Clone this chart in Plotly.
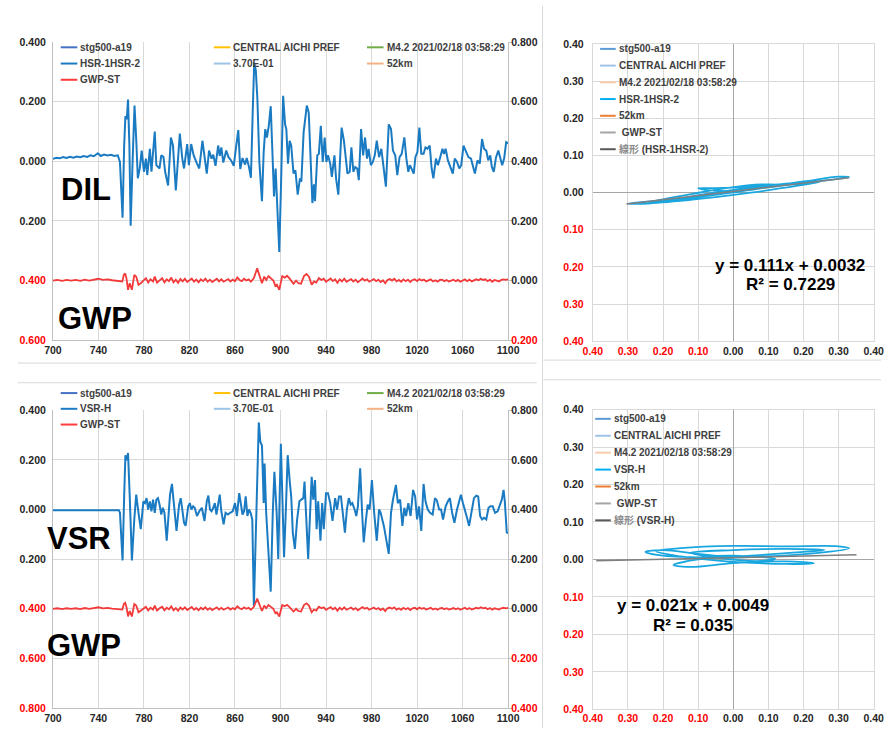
import plotly.graph_objects as go

W, H = 893, 734

# ---------------- data ----------------
x_ticks = [700, 740, 780, 820, 860, 900, 940, 980, 1020, 1060, 1100]

# HSR-1HSR-2 (DIL) time series
dil_t = [700, 703, 706, 709, 712, 715, 718, 721, 724, 727, 730, 733, 736, 739.5, 742, 745, 748, 751, 754, 757,
         758.9, 761.2, 762.6, 763.7, 764.9, 766.0, 767.2, 768.3, 770.0, 771.7, 773.2, 774.6, 776.3, 778.0,
         780.0, 781.7, 782.9, 785.2, 786.6, 789.5, 790.9, 793.7, 795.2, 797.2, 798.6, 801.2, 803.7, 805.5,
         808.0, 811.5, 813.7, 815.2, 818.0, 819.5, 821.5, 823.7, 826.6, 828.6, 831.4, 833.2, 835.2, 837.2,
         839.4, 840.9, 842.9, 845.2, 846.6, 848.0, 849.7, 852.3, 854.3, 856.6, 858.9, 860.9, 862.9, 864.6,
         866.6, 868.9, 870.3, 872.3, 874.0, 875.7, 876.9, 878.3, 879.7, 881.4, 883.7, 885.2, 886.6, 888.0,
         889.7, 891.4, 893.2, 894.3, 895.7, 897.4, 898.9, 900.6, 902.3, 904.0, 905.1, 906.6, 908.0, 909.4,
         911.4, 913.1, 915.1, 917.1, 918.3, 920.3, 923.1, 924.8, 926.6, 928.0, 929.4, 930.3, 932.3, 933.7,
         935.4, 937.1, 938.8, 940.3, 941.7, 943.7, 945.1, 947.4, 948.8, 950.8, 953.7, 955.7, 957.1, 958.8,
         960.8, 962.3, 964.0, 965.7, 967.4, 968.8, 970.8, 972.6, 974.3, 976.0, 977.4, 979.4, 981.1, 982.8,
         984.6, 986.6, 988.6, 990.8, 992.6, 995.1, 997.1, 998.8, 1000.8, 1002.6, 1004.6, 1006.5, 1008.8,
         1010.6, 1012.3, 1013.7, 1015.7, 1017.1, 1018.5, 1020.3, 1022.0, 1023.7, 1025.7, 1027.4, 1029.1,
         1031.1, 1032.8, 1034.3, 1036.6, 1038.3, 1040.0, 1042.3, 1043.7, 1045.1, 1047.1, 1049.4, 1051.4,
         1053.1, 1055.1, 1057.1, 1058.8, 1060.8, 1062.8, 1065.1, 1067.4, 1069.1, 1070.8, 1073.1, 1075.1,
         1077.1, 1078.8, 1080.8, 1082.5, 1084.3, 1085.7, 1087.4, 1089.4, 1091.4, 1093.1, 1094.8, 1096.5,
         1098.3, 1100]
dil_v = [0.008, 0.012, 0.010, 0.014, 0.011, 0.015, 0.012, 0.016, 0.014, 0.018, 0.015, 0.020, 0.017, 0.027, 0.018,
         0.023, 0.020, 0.022, 0.018, 0.020,
         -0.002, -0.189, 0.053, 0.152, 0.141, 0.207, 0.053, -0.216, -0.002, 0.187, 0.075, -0.057, -0.024, 0.036,
         -0.035, 0.009, -0.046, 0.042, -0.035, 0.100, -0.013, -0.024, 0.020, 0.014, -0.035, -0.081, 0.080, 0.053,
         -0.098, 0.093, 0.009, -0.024, 0.058, -0.013, 0.058, 0.020, -0.008, -0.024, 0.069, 0.009, -0.041, 0.036,
         0.009, 0.022, -0.015, 0.053, 0.018, 0.047, -0.004, 0.036, 0.014, 0.003, -0.015, 0.047, 0.105, -0.026,
         0.011, -0.011, 0.011, -0.019, -0.055, 0.185, 0.330, 0.305, 0.207, -0.002, -0.134, 0.031, 0.108, 0.080,
         0.119, 0.185, -0.057, -0.118, -0.024, -0.189, -0.304, -0.057, 0.220, 0.124, 0.108, -0.008, 0.069, 0.053,
         -0.041, -0.030, -0.112, -0.057, -0.068, 0.097, 0.187, 0.163, -0.013, -0.140, -0.077, -0.134, 0.020, 0.025,
         0.119, -0.002, 0.080, -0.002, 0.020, -0.008, -0.052, 0.020, -0.057, -0.112, 0.113, 0.069, 0.020, -0.041,
         -0.035, 0.047, -0.035, -0.019, -0.024, -0.063, 0.108, 0.020, 0.080, 0.009, 0.042, -0.013, -0.002, 0.020,
         0.069, 0.014, 0.042, -0.019, -0.085, 0.124, 0.108, 0.036, 0.020, -0.046, 0.014, 0.025, 0.080,
         0.009, -0.035, -0.013, -0.030, -0.041, 0.014, 0.031, 0.113, 0.025, 0.025, 0.047, 0.042,
         0.053, -0.024, -0.057, 0.009, -0.013, 0.009, 0.042, 0.025, 0.042, 0.003, -0.024, -0.041,
         0.009, -0.002, -0.024, -0.013, 0.053, 0.036, 0.014, 0.009, -0.019, -0.041, 0.003, -0.008,
         0.075, 0.042, 0.036, 0.003, 0.020, -0.019, -0.035, 0.014, 0.036, 0.009, -0.013, 0.009,
         0.064, 0.060]

# VSR-H time series
vsr_t = [700, 730, 758.0, 758.9, 761.2, 762.6, 763.7, 764.9, 766.0, 767.5, 769.4, 771.5, 773.2, 775.2, 777.2,
         779.5, 780.9, 782.3, 783.7, 785.2, 786.6, 788.0, 789.5, 790.9, 792.3, 793.7, 795.2, 796.6, 798.0,
         800.0, 802.9, 804.6, 806.6, 808.6, 810.9, 812.3, 813.7, 815.2, 816.6, 818.9, 820.3, 821.7, 823.2,
         824.6, 826.6, 828.6, 830.9, 833.2, 835.2, 836.6, 838.0, 839.4, 840.9, 842.3, 843.7, 845.2, 846.6,
         848.0, 850.0, 851.7, 853.7, 855.7, 858.0, 860.0, 861.7, 863.7, 865.2, 866.6, 868.0, 869.4, 870.9,
         872.3, 873.7, 875.2, 876.6, 878.6, 880.9, 882.3, 883.7, 885.2, 886.0, 887.4, 888.9, 891.4, 893.2,
         894.6, 896.6, 898.0, 900.3, 901.7, 903.1, 904.6, 906.3, 908.0, 909.4, 910.8, 912.6, 914.6, 916.6,
         918.3, 920.0, 921.1, 922.8, 924.3, 926.0, 927.4, 928.8, 930.3, 931.7, 933.1, 935.1, 936.6, 938.0,
         940.0, 941.7, 943.7, 945.7, 948.0, 949.7, 951.4, 953.1, 954.6, 956.6, 958.3, 960.0, 961.7, 963.1,
         965.1, 966.6, 968.0, 970.0, 971.7, 973.1, 975.1, 976.6, 978.3, 980.3, 982.3, 984.6, 986.6, 988.0,
         990.8, 993.1, 995.1, 997.1, 998.8, 1001.4, 1003.1, 1005.1, 1007.1, 1008.8, 1010.3, 1012.3, 1014.3,
         1016.5, 1018.3, 1020.0, 1021.7, 1023.7, 1025.7, 1027.4, 1029.4, 1031.4, 1033.7, 1035.7, 1037.4,
         1039.4, 1041.1, 1042.8, 1045.1, 1047.1, 1048.8, 1050.8, 1052.8, 1055.1, 1056.6, 1058.5, 1060.3,
         1062.3, 1064.3, 1065.7, 1068.0, 1070.0, 1072.0, 1073.7, 1075.4, 1077.1, 1078.8, 1080.8, 1082.8,
         1084.5, 1086.5, 1088.5, 1090.8, 1092.8, 1094.5, 1096.0, 1097.1, 1098.8, 1100]
vsr_v = [-0.003, -0.003, -0.003, -0.013, -0.205, 0.053, 0.219, 0.199, 0.228, 0.053, -0.205, -0.040, 0.060, -0.013, -0.079,
         0.033, 0.026, 0.046, 0.000, 0.033, -0.007, 0.040, -0.013, 0.040, 0.046, 0.020, -0.020, 0.007, -0.013,
         -0.126, 0.060, 0.103, 0.007, -0.086, 0.020, 0.046, 0.000, -0.053, -0.066, 0.013, 0.026, 0.000, 0.013,
         0.007, -0.026, -0.007, 0.007, -0.046, 0.033, 0.056, 0.000, -0.007, 0.007, 0.026, -0.020, 0.020, 0.060,
         -0.007, -0.060, -0.013, -0.020, -0.013, -0.007, 0.026, -0.026, 0.066, 0.026, -0.020, -0.007, 0.053, -0.026,
         0.000, -0.013, -0.040, -0.390, -0.013, 0.351, 0.272, 0.258, 0.026, 0.185, -0.013, -0.132, -0.331, -0.013,
         0.152, -0.013, -0.199, 0.265, 0.079, -0.192, -0.013, 0.219, 0.119, 0.053, -0.093, -0.159, -0.040, 0.033,
         0.040, 0.046, 0.113, -0.040, -0.199, -0.013, 0.132, 0.040, 0.119, -0.079, 0.033, -0.126, 0.026, -0.079,
         0.066, 0.066, 0.026, -0.046, 0.046, 0.000, 0.053, 0.053, -0.013, -0.093, 0.000, 0.046, 0.020, 0.026,
         0.000, -0.026, 0.013, 0.166, -0.013, -0.132, -0.040, 0.020, 0.000, 0.119, -0.013, -0.126, 0.000, -0.013,
         -0.066, -0.119, -0.179, -0.013, 0.040, 0.099, 0.026, 0.040, -0.066, 0.007, -0.026, 0.026, -0.026,
         0.079, 0.053, -0.040, 0.013, -0.086, 0.103, 0.033, 0.000, -0.013, -0.020, 0.046, 0.037,
         0.000, 0.000, -0.040, 0.013, 0.033, 0.046, -0.013, -0.053, 0.000, 0.026, 0.060, 0.026,
         -0.013, -0.040, -0.066, -0.013, 0.046, 0.056, 0.053, -0.026, -0.040, -0.033, -0.040, 0.007,
         0.013, 0.013, -0.013, -0.007, 0.020, 0.040, 0.079, 0.033, -0.093, -0.095]

# GWP-ST time series (same in both panels)
gwp_t = [700, 704, 708, 712, 716, 720, 724, 728, 732, 736, 740, 744, 748, 752, 756, 759, 761, 762.3, 763.5,
         764.6, 766.0, 767.5, 769.4, 771.5, 773.2, 775.2, 777.2, 779.5, 781.7, 783.7, 785.7, 788, 789.5,
         791.5, 793.7, 796, 798, 800, 802, 804, 806, 808, 810, 812, 814, 816, 818, 820, 822, 824, 826, 828,
         830, 832, 834, 836, 838, 840, 842, 844, 846, 848, 850, 852, 854, 856, 858, 860, 862, 864, 866, 868,
         870, 872, 874, 876.6, 878, 879.5, 880.9, 882.3, 883.7, 885.7, 887.4, 889.4, 891.4, 893.7, 895.5,
         896.8, 898.9, 901.5, 903.7, 905.7, 907.7, 909.4, 911.4, 913.7, 915.7, 918, 920.6, 922.8, 925, 927.4,
         929.4, 931.4, 933.7, 936, 938, 940, 942, 944, 946, 948, 950, 952, 954, 956, 958, 960, 962, 964, 966,
         968, 970, 972, 974, 976, 978, 980, 982, 984, 986, 988, 990, 992, 994, 996, 998, 1000, 1002, 1004,
         1006, 1008, 1010, 1012, 1014, 1016, 1018, 1020, 1022, 1024, 1026, 1028, 1030, 1032, 1034, 1036,
         1038, 1040, 1042, 1044, 1046, 1048, 1050, 1052, 1054, 1056, 1058, 1060, 1062, 1064, 1066, 1068,
         1070, 1072, 1074, 1076, 1078, 1080, 1082, 1084, 1086, 1088, 1090, 1092, 1094, 1096, 1098, 1100]
gwp_v = [0.000, 0.002, -0.001, 0.002, 0.000, 0.002, -0.001, 0.003, 0.000, 0.004, 0.006, 0.002, 0.004, 0.001, 0.000,
         0.000, -0.003, 0.019, 0.024, 0.008, -0.031, -0.009, -0.031, 0.019, 0.013, -0.014, -0.009, 0.000, 0.008,
         -0.007, 0.004, -0.003, 0.013, -0.007, 0.002, 0.008, -0.006, 0.004, -0.002, 0.010, -0.006, 0.003, -0.008,
         0.005, -0.003, 0.006, -0.005, 0.002, 0.007, -0.004, 0.003, -0.006, 0.004, -0.002, 0.006, -0.004, 0.003,
         -0.005, 0.002, 0.006, -0.003, 0.004, -0.004, 0.002, 0.005, -0.003, 0.003, -0.002, 0.010, 0.002, -0.002,
         0.006, 0.000, 0.004, -0.004, 0.008, 0.024, 0.041, 0.024, 0.008, -0.009, 0.013, 0.002, 0.015, 0.008,
         0.000, -0.018, -0.014, -0.031, 0.015, 0.010, 0.016, 0.008, -0.003, -0.011, 0.000, -0.009, -0.011, 0.015,
         0.022, 0.013, -0.014, -0.003, -0.007, 0.008, 0.002, 0.006, -0.004, 0.003, 0.007, -0.002, 0.004, -0.008,
         0.004, -0.003, 0.006, -0.004, 0.002, 0.005, -0.003, 0.003, -0.006, 0.002, 0.007, 0.000, 0.004, -0.004,
         0.002, 0.005, -0.002, 0.003, -0.005, 0.001, -0.009, 0.002, 0.005, 0.000, 0.006, -0.003, 0.002, -0.004,
         0.004, -0.002, 0.003, -0.005, 0.002, 0.004, -0.002, 0.005, 0.000, 0.003, -0.003, 0.002, 0.004, -0.003,
         0.001, -0.004, 0.002, 0.003, -0.002, 0.002, -0.003, 0.000, 0.003, -0.002, 0.002, -0.004, 0.001, 0.004,
         -0.002, 0.003, -0.003, 0.000, 0.004, 0.001, 0.006, 0.002, 0.004, -0.002, 0.003, -0.004, 0.002, 0.000,
         -0.003, 0.002, 0.004, 0.002, 0.004]

# scatter (x: strain, y: GWP)
dil_xy_x = [-0.02, 0.10, 0.22, 0.33, 0.30, 0.20, 0.05, -0.10, -0.22, -0.30, -0.26, -0.15, -0.05, 0.05, 0.18,
            0.25, 0.18, 0.05, -0.05, -0.10, -0.06, 0.00, 0.08, 0.14, 0.08, -0.02, -0.12, -0.20, -0.24, -0.15,
            -0.05, 0.04, 0.12, 0.06, -0.04, -0.12, -0.04, 0.03]
dil_xy_y = [0.000, 0.015, 0.028, 0.042, 0.043, 0.030, 0.010, -0.010, -0.022, -0.030, -0.030, -0.022, -0.012,
            0.000, 0.018, 0.030, 0.026, 0.016, 0.012, 0.012, 0.006, 0.004, 0.012, 0.020, 0.022, 0.012, -0.004,
            -0.018, -0.026, -0.018, -0.006, 0.006, 0.018, 0.014, 0.002, -0.010, -0.004, 0.004]
vsr_xy_x = [0.00, -0.10, -0.20, -0.25, -0.20, -0.05, 0.10, 0.25, 0.33, 0.30, 0.15, 0.00, -0.15, -0.22, -0.15,
            -0.02, 0.15, 0.23, 0.15, 0.00, -0.12, -0.17, -0.10, 0.05, 0.20, 0.26, 0.15, 0.00, -0.12, -0.05, 0.08,
            0.12, 0.00, -0.08, 0.02]
vsr_xy_y = [0.005, 0.015, 0.025, 0.020, 0.010, 0.005, 0.008, 0.018, 0.030, 0.035, 0.035, 0.036, 0.030, 0.022,
            0.008, -0.005, -0.012, -0.010, -0.005, -0.010, -0.020, -0.015, 0.000, 0.010, 0.020, 0.025, 0.028,
            0.025, 0.018, 0.005, -0.004, 0.002, 0.010, 0.008, 0.006]

dil_fit = [0.111, 0.0032]
vsr_fit = [0.021, 0.0049]
dil_eq = ["y = 0.111x + 0.0032", "R² = 0.7229"]
vsr_eq = ["y = 0.021x + 0.0049", "R² = 0.035"]

top_legend = [("stg500-a19", "#4472C4"), ("CENTRAL AICHI PREF", "#FFC000"), ("M4.2 2021/02/18 03:58:29", "#70AD47"),
              ("HSR-1HSR-2", "#1B7BC2"), ("3.70E-01", "#9DC3E6"), ("52km", "#F4B183"), ("GWP-ST", "#FF3B3B")]
bot_legend = [("stg500-a19", "#4472C4"), ("CENTRAL AICHI PREF", "#FFC000"), ("M4.2 2021/02/18 03:58:29", "#70AD47"),
              ("VSR-H", "#1B7BC2"), ("3.70E-01", "#9DC3E6"), ("52km", "#F4B183"), ("GWP-ST", "#FF3B3B")]
tr_legend = [("stg500-a19", "#5B9BD5"), ("CENTRAL AICHI PREF", "#9DC3E6"), ("M4.2 2021/02/18 03:58:29", "#F8CBAD"),
             ("HSR-1HSR-2", "#00B0F0"), ("52km", "#ED7D31"), (" GWP-ST", "#A5A5A5"), ("線形 (HSR-1HSR-2)", "#595959")]
br_legend = [("stg500-a19", "#5B9BD5"), ("CENTRAL AICHI PREF", "#9DC3E6"), ("M4.2 2021/02/18 03:58:29", "#F8CBAD"),
             ("VSR-H", "#00B0F0"), ("52km", "#ED7D31"), (" GWP-ST", "#A5A5A5"), ("線形 (VSR-H)", "#595959")]

# ---------------- helpers ----------------
FONT = "Arial, Liberation Sans, Noto Sans CJK JP"
BLUE = "#1B7BC2"
RED = "#F23A3A"
SCAT = "#1AA7E0"
GRID = "#D9D9D9"
AXL = "#BFBFBF"
TXT = "#262626"


def px(x):
    return x / W


def py(y):
    return 1 - y / H


def fmt(v, nd, red_below):
    s = f"{abs(v):.{nd}f}"
    if v < red_below - 1e-9:
        return f"<span style='color:#FF0000'>{s}</span>"
    return s


def yticks(lo, hi, step, nd, red_below=0.0):
    n = int(round((hi - lo) / step))
    vals = [round(lo + i * step, 6) for i in range(n + 1)]
    return vals, [f"<b>{fmt(v, nd, red_below)}</b>" for v in vals]


fig = go.Figure()

# time-series traces
fig.add_trace(go.Scatter(x=dil_t, y=dil_v, mode="lines", line=dict(color=BLUE, width=2),
                         xaxis="x", yaxis="y", showlegend=False))
fig.add_trace(go.Scatter(x=gwp_t, y=gwp_v, mode="lines", line=dict(color=RED, width=1.8),
                         xaxis="x", yaxis="y2", showlegend=False))
fig.add_trace(go.Scatter(x=vsr_t, y=vsr_v, mode="lines", line=dict(color=BLUE, width=2),
                         xaxis="x3", yaxis="y4", showlegend=False))
fig.add_trace(go.Scatter(x=gwp_t, y=gwp_v, mode="lines", line=dict(color=RED, width=1.8),
                         xaxis="x3", yaxis="y5", showlegend=False))

# scatter panels (trend line spans the strain range of each record)
fig.add_trace(go.Scatter(x=dil_xy_x, y=dil_xy_y, mode="lines", line=dict(color=SCAT, width=1.8, shape="spline"),
                         xaxis="x2", yaxis="y3", showlegend=False))
fx = [min(dil_v), max(dil_v)]
fig.add_trace(go.Scatter(x=fx, y=[dil_fit[0] * v + dil_fit[1] for v in fx], mode="lines",
                         line=dict(color="#7F7F7F", width=1.5), xaxis="x2", yaxis="y3", showlegend=False))
fig.add_trace(go.Scatter(x=vsr_xy_x, y=vsr_xy_y, mode="lines", line=dict(color=SCAT, width=1.8, shape="spline"),
                         xaxis="x4", yaxis="y6", showlegend=False))
fx2 = [min(vsr_v), max(vsr_v)]
fig.add_trace(go.Scatter(x=fx2, y=[vsr_fit[0] * v + vsr_fit[1] for v in fx2], mode="lines",
                         line=dict(color="#7F7F7F", width=1.5), xaxis="x4", yaxis="y6", showlegend=False))

tickfont = dict(family=FONT, size=10.5, color=TXT, weight="bold")

xt_text = [f"<b>{v}</b>" for v in x_ticks]
xcommon = dict(range=[700, 1100], tickvals=x_ticks, ticktext=xt_text, showgrid=True, gridcolor=GRID,
               showline=True, linecolor=AXL, ticks="", tickfont=tickfont, zeroline=False, fixedrange=True,
               ticklabelstandoff=0)

tl_dom_x = [px(44), px(510.7)]
r_dom_x = [px(597.5), px(885.5)]

yv, yt = yticks(-0.6, 0.4, 0.2, 3, red_below=-0.2)
y2v, y2t = yticks(-0.2, 0.8, 0.2, 3)
y4v, y4t = yticks(-0.8, 0.4, 0.2, 3, red_below=-0.2)
y5v, y5t = yticks(-0.4, 0.8, 0.2, 3)
sv, st = yticks(-0.4, 0.4, 0.1, 2)

left_y = dict(showgrid=True, gridcolor=GRID, showline=True, linecolor=AXL, ticks="", tickfont=tickfont,
              zeroline=False, ticklabelstandoff=4)
right_y = dict(showgrid=False, showline=True, linecolor=AXL, ticks="outside", ticklen=3, tickcolor=AXL,
               tickfont=tickfont, zeroline=False, side="right", ticklabelstandoff=-3)
scat_ax = dict(range=[-0.4, 0.4], tickvals=sv, ticktext=st, showgrid=True, gridcolor=GRID, showline=True,
               linecolor=GRID, mirror=True, ticks="", tickfont=tickfont, zeroline=True, zerolinecolor="#A6A6A6",
               zerolinewidth=1)

fig.update_layout(
    width=W, height=H, autosize=False, margin=dict(l=0, r=0, t=0, b=0),
    paper_bgcolor="white", plot_bgcolor="white", showlegend=False,
    xaxis=dict(domain=tl_dom_x, anchor="y", **xcommon),
    yaxis=dict(domain=[py(339.7), py(36.7)], range=[-0.6, 0.4], tickvals=yv, ticktext=yt, anchor="x", **left_y),
    yaxis2=dict(range=[-0.2, 0.8], tickvals=y2v, ticktext=y2t, overlaying="y", anchor="x", **right_y),
    xaxis3=dict(domain=tl_dom_x, anchor="y4", **xcommon),
    yaxis4=dict(domain=[py(713.7), py(411)], range=[-0.8, 0.4], tickvals=y4v, ticktext=y4t, anchor="x3", **left_y),
    yaxis5=dict(range=[-0.4, 0.8], tickvals=y5v, ticktext=y5t, overlaying="y4", anchor="x3", **right_y),
    xaxis2=dict(domain=r_dom_x, anchor="y3", ticklabelstandoff=0, **scat_ax),
    yaxis3=dict(domain=[py(340.7), py(38.8)], anchor="x2", ticklabelstandoff=6, **scat_ax),
    xaxis4=dict(domain=r_dom_x, anchor="y6", ticklabelstandoff=-1, **scat_ax),
    yaxis6=dict(domain=[py(715), py(410.3)], anchor="x4", ticklabelstandoff=6, **scat_ax),
)

shapes = []
annots = []


def legend_entry(label, color, x, y, swl=17):
    shapes.append(dict(type="line", xref="paper", yref="paper", x0=px(x), x1=px(x + swl), y0=py(y), y1=py(y),
                       line=dict(color=color, width=2)))
    if label.startswith("線形"):
        rest = label[2:]
        text = f"<span style='color:#8C8C8C'>線形</span><b>{rest}</b>"
    else:
        text = f"<b>{label}</b>"
    annots.append(dict(xref="paper", yref="paper", x=px(x + swl + 1), y=py(y), xanchor="left", yanchor="middle",
                       text=text, showarrow=False,
                       font=dict(family=FONT, size=10, color="#404040", weight="bold")))


# time-series legends (3 columns)
cols = [52, 209, 366]
for i, (lab, col) in enumerate(top_legend):
    legend_entry(lab, col, cols[i % 3], 42 + 16.5 * (i // 3))
for i, (lab, col) in enumerate(bot_legend):
    legend_entry(lab, col, cols[i % 3], 393.5 + 16 * (i // 3))
# scatter legends
for i, (lab, col) in enumerate(tr_legend):
    legend_entry(lab, col, 605, 43.6 + 17 * i, swl=16)
for i, (lab, col) in enumerate(br_legend):
    legend_entry(lab, col, 600, 419.7 + 17.2 * i, swl=16)

# big labels
for txt, x, y in [("DIL", 77.5, 186.5), ("GWP", 87, 318), ("VSR", 70.5, 541), ("GWP", 75.5, 650)]:
    annots.append(dict(xref="paper", yref="paper", x=px(x), y=py(y), xanchor="center", yanchor="middle",
                       text=f"<b>{txt}</b>", showarrow=False,
                       font=dict(family=FONT, size=31, color="black", weight="bold")))

# regression equations
for (l1, l2), cx, y1, y2 in [(dil_eq, 800, 263.5, 283.5), (vsr_eq, 700, 609, 629.3)]:
    for t, yy in [(l1, y1), (l2, y2)]:
        annots.append(dict(xref="paper", yref="paper", x=px(cx), y=py(yy), xanchor="center", yanchor="middle",
                           text=f"<b>{t}</b>", showarrow=False,
                           font=dict(family=FONT, size=17, color="black", weight="bold")))

# chart-area separators
sep = dict(color="#D9D9D9", width=1)
shapes += [
    dict(type="line", xref="paper", yref="paper", x0=px(546), x1=px(546), y0=0, y1=1, line=sep),
    dict(type="line", xref="paper", yref="paper", x0=px(8), x1=px(540), y0=py(363), y1=py(363), line=sep),
    dict(type="line", xref="paper", yref="paper", x0=px(8), x1=px(540), y0=py(383), y1=py(383), line=sep),
    dict(type="line", xref="paper", yref="paper", x0=px(547), x1=1, y0=py(360), y1=py(360), line=sep),
    dict(type="line", xref="paper", yref="paper", x0=px(547), x1=1, y0=py(380), y1=py(380), line=sep),
]

fig.update_layout(shapes=shapes, annotations=annots)

# let the 893x734 figure sit flush in the 893x734 window (no default body margin / scrollbars)
page_fix = ("document.documentElement.style.margin='0';document.body.style.margin='0';"
            "document.body.style.padding='0';document.documentElement.style.overflow='hidden';"
            "document.body.style.overflow='hidden';")
fig.write_html("out.html", post_script=page_fix, config={"displayModeBar": False})
